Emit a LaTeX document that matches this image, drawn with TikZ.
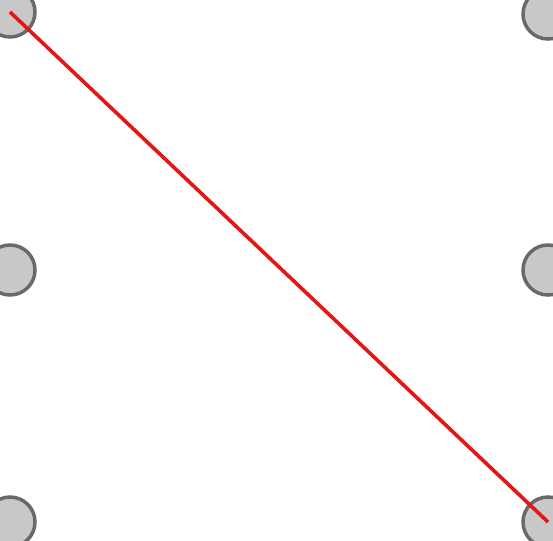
\documentclass[tikz,border=0pt]{standalone}
\definecolor{dotgray}{RGB}{200,200,200}
\definecolor{dotedge}{RGB}{105,105,105}
\definecolor{linered}{RGB}{230,20,20}
\usepackage{tikz}
\usetikzlibrary{positioning}

\begin{document}
\begin{tikzpicture}[x=1pt, y=-1pt,
  dot/.style={circle, draw=dotedge, line width=3.5pt, fill=dotgray,
    minimum size=50pt, inner sep=0pt}]

\useasboundingbox (0,0) rectangle (553,540);

% Six dots, two columns
\node[dot] (tl) at (10,12) {};
\node[dot] (ml) at (10,270) {};
\node[dot] (bl) at (10,522) {};
\node[dot] (tr) at (548,14) {};
\node[dot] (mr) at (548,270) {};
\node[dot] (br) at (548,522) {};

% Diagonal stroke
\draw[linered, line width=3.6pt] (tl.center) -- (br.center);

\end{tikzpicture}
\end{document}
